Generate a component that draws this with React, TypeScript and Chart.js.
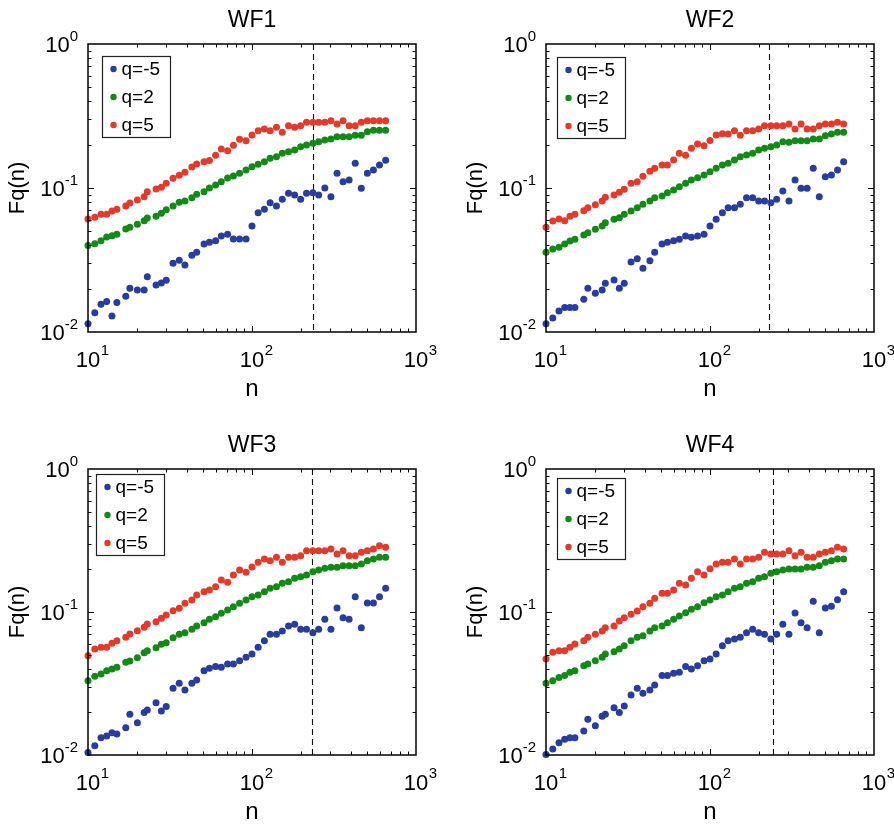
import React, { useEffect, useRef } from 'react';
import { Chart, registerables } from 'chart.js';

Chart.register(...registerables);

// ---------- data ----------
const nValues = [10, 11, 12, 13, 14, 15, 17, 18, 20, 22, 23, 26, 28, 30, 33, 36, 39, 43, 46, 51, 55, 60, 65, 71, 77, 84, 92, 100,
  109, 119, 129, 141, 153, 167, 182, 198, 215, 235, 255, 278, 303, 330, 359, 391, 426, 464, 505, 550, 599, 653];

const panelTitles = ['WF1', 'WF2', 'WF3', 'WF4'];
const seriesLabels = ['q=-5', 'q=2', 'q=5'];
const seriesColors = ['#2a3c9e', '#138a17', '#e33a2b'];
const cutoffN = [236, 230, 231, 241];

const xTickValues = [10, 100, 1000];
const xTickExps = ['1', '2', '3'];
const yTickValues = [0.01, 0.1, 1];
const yTickExps = ['-2', '-1', '0'];
const xAxisTitle = 'n';
const yAxisTitle = 'Fq(n)';

const wf1QMinus5 = [0.0114, 0.0136, 0.0156, 0.0163, 0.0129, 0.0160, 0.0177, 0.0201, 0.0196, 0.0196, 0.0242, 0.0212, 0.0219, 0.0229,
  0.0300, 0.0315, 0.0292, 0.0341, 0.0358, 0.0408, 0.0420, 0.0431, 0.0464, 0.0477, 0.0442, 0.0442, 0.0442, 0.0545,
  0.0674, 0.0711, 0.0790, 0.0750, 0.0835, 0.0919, 0.0894, 0.0835, 0.0919, 0.0928, 0.0894, 0.1000, 0.0870, 0.1265,
  0.1106, 0.1136, 0.1484, 0.0995, 0.1265, 0.1334, 0.1445, 0.1557];
const wf1Q2 = [0.0398, 0.0410, 0.0431, 0.0457, 0.0466, 0.0477, 0.0519, 0.0534, 0.0560, 0.0593, 0.0619, 0.0636, 0.0667, 0.0707,
  0.0750, 0.0796, 0.0812, 0.0856, 0.0904, 0.0943, 0.1000, 0.1049, 0.1106, 0.1174, 0.1212, 0.1265, 0.1334, 0.1406,
  0.1461, 0.1523, 0.1608, 0.1650, 0.1742, 0.1787, 0.1836, 0.1935, 0.1989, 0.2044, 0.2097, 0.2154, 0.2189, 0.2271,
  0.2271, 0.2271, 0.2323, 0.2323, 0.2460, 0.2516, 0.2516, 0.2516];
const wf1Q5 = [0.0609, 0.0626, 0.0657, 0.0657, 0.0692, 0.0711, 0.0750, 0.0787, 0.0825, 0.0870, 0.0943, 0.0984, 0.1011, 0.1078,
  0.1168, 0.1225, 0.1285, 0.1399, 0.1468, 0.1520, 0.1550, 0.1687, 0.1866, 0.1816, 0.1979, 0.2179, 0.2131, 0.2335,
  0.2500, 0.2569, 0.2500, 0.2639, 0.2436, 0.2708, 0.2639, 0.2708, 0.2859, 0.2859, 0.2859, 0.2859, 0.2934, 0.2783,
  0.2934, 0.2708, 0.2708, 0.2859, 0.2934, 0.2934, 0.2934, 0.2934];

const wf2QMinus5 = [0.0114, 0.0125, 0.0140, 0.0148, 0.0148, 0.0148, 0.0169, 0.0201, 0.0186, 0.0196, 0.0218, 0.0230, 0.0201, 0.0218,
  0.0306, 0.0323, 0.0277, 0.0313, 0.0358, 0.0408, 0.0420, 0.0431, 0.0440, 0.0464, 0.0455, 0.0464, 0.0477, 0.0545,
  0.0606, 0.0674, 0.0730, 0.0730, 0.0770, 0.0856, 0.0856, 0.0812, 0.0812, 0.0790, 0.0835, 0.0953, 0.0812, 0.1136,
  0.0995, 0.0995, 0.1370, 0.0870, 0.1198, 0.1231, 0.1334, 0.1523];
const wf2Q2 = [0.0358, 0.0377, 0.0388, 0.0408, 0.0429, 0.0440, 0.0472, 0.0489, 0.0517, 0.0545, 0.0574, 0.0606, 0.0622, 0.0657,
  0.0692, 0.0730, 0.0770, 0.0812, 0.0856, 0.0880, 0.0928, 0.0969, 0.1021, 0.1078, 0.1136, 0.1179, 0.1231, 0.1298,
  0.1370, 0.1445, 0.1484, 0.1565, 0.1650, 0.1696, 0.1742, 0.1836, 0.1886, 0.1935, 0.1989, 0.2097, 0.2077, 0.2131,
  0.2131, 0.2131, 0.2189, 0.2189, 0.2308, 0.2371, 0.2436, 0.2436];
const wf2Q5 = [0.0534, 0.0590, 0.0609, 0.0593, 0.0636, 0.0657, 0.0696, 0.0730, 0.0766, 0.0812, 0.0862, 0.0894, 0.0934, 0.0980,
  0.1078, 0.1106, 0.1206, 0.1306, 0.1370, 0.1445, 0.1445, 0.1565, 0.1742, 0.1687, 0.1886, 0.2020, 0.1966, 0.2140,
  0.2334, 0.2383, 0.2371, 0.2500, 0.2323, 0.2500, 0.2500, 0.2569, 0.2708, 0.2708, 0.2708, 0.2708, 0.2783, 0.2569,
  0.2783, 0.2569, 0.2569, 0.2708, 0.2783, 0.2783, 0.2859, 0.2783];

const wf3QMinus5 = [0.0104, 0.0116, 0.0132, 0.0136, 0.0143, 0.0140, 0.0155, 0.0193, 0.0168, 0.0198, 0.0206, 0.0232, 0.0203, 0.0218,
  0.0293, 0.0317, 0.0285, 0.0317, 0.0335, 0.0389, 0.0404, 0.0415, 0.0411, 0.0433, 0.0433, 0.0457, 0.0482, 0.0509,
  0.0566, 0.0630, 0.0698, 0.0698, 0.0737, 0.0798, 0.0820, 0.0757, 0.0757, 0.0717, 0.0757, 0.0889, 0.0757, 0.1067,
  0.0912, 0.0889, 0.1279, 0.0777, 0.1156, 0.1156, 0.1279, 0.1464];
const wf3Q2 = [0.0331, 0.0355, 0.0369, 0.0389, 0.0400, 0.0411, 0.0445, 0.0454, 0.0479, 0.0519, 0.0536, 0.0563, 0.0594, 0.0610,
  0.0661, 0.0698, 0.0717, 0.0757, 0.0798, 0.0842, 0.0889, 0.0927, 0.0979, 0.1033, 0.1089, 0.1150, 0.1213, 0.1279,
  0.1315, 0.1387, 0.1464, 0.1503, 0.1587, 0.1628, 0.1720, 0.1765, 0.1815, 0.1913, 0.1966, 0.2020, 0.2054, 0.2054,
  0.2108, 0.2108, 0.2108, 0.2166, 0.2285, 0.2348, 0.2413, 0.2413];
const wf3Q5 = [0.0495, 0.0551, 0.0566, 0.0566, 0.0604, 0.0630, 0.0665, 0.0702, 0.0740, 0.0782, 0.0824, 0.0855, 0.0904, 0.0953,
  0.1021, 0.1061, 0.1150, 0.1213, 0.1315, 0.1387, 0.1425, 0.1503, 0.1674, 0.1613, 0.1815, 0.1966, 0.1895, 0.2064,
  0.2227, 0.2348, 0.2285, 0.2413, 0.2227, 0.2413, 0.2413, 0.2476, 0.2683, 0.2683, 0.2683, 0.2683, 0.2758, 0.2544,
  0.2683, 0.2476, 0.2476, 0.2615, 0.2683, 0.2758, 0.2908, 0.2834];

const wf4QMinus5 = [0.0101, 0.0110, 0.0122, 0.0129, 0.0132, 0.0132, 0.0147, 0.0178, 0.0160, 0.0187, 0.0193, 0.0214, 0.0198, 0.0220,
  0.0263, 0.0293, 0.0270, 0.0285, 0.0309, 0.0359, 0.0359, 0.0373, 0.0379, 0.0415, 0.0400, 0.0421, 0.0457, 0.0469,
  0.0509, 0.0581, 0.0630, 0.0648, 0.0665, 0.0717, 0.0757, 0.0717, 0.0698, 0.0648, 0.0698, 0.0820, 0.0698, 0.0984,
  0.0842, 0.0777, 0.1188, 0.0717, 0.1067, 0.1096, 0.1219, 0.1387];
const wf4Q2 = [0.0317, 0.0331, 0.0349, 0.0359, 0.0379, 0.0389, 0.0421, 0.0433, 0.0457, 0.0482, 0.0509, 0.0528, 0.0551, 0.0581,
  0.0630, 0.0665, 0.0683, 0.0737, 0.0777, 0.0798, 0.0842, 0.0889, 0.0938, 0.0989, 0.1044, 0.1089, 0.1161, 0.1213,
  0.1279, 0.1315, 0.1387, 0.1464, 0.1503, 0.1587, 0.1628, 0.1720, 0.1765, 0.1865, 0.1913, 0.1966, 0.1998, 0.1998,
  0.1998, 0.2054, 0.2054, 0.2108, 0.2227, 0.2285, 0.2348, 0.2348];
const wf4Q5 = [0.0469, 0.0523, 0.0536, 0.0536, 0.0566, 0.0597, 0.0630, 0.0665, 0.0698, 0.0737, 0.0777, 0.0798, 0.0865, 0.0912,
  0.0964, 0.1016, 0.1089, 0.1150, 0.1247, 0.1351, 0.1351, 0.1425, 0.1587, 0.1545, 0.1720, 0.1913, 0.1815, 0.2009,
  0.2166, 0.2227, 0.2227, 0.2348, 0.2166, 0.2348, 0.2348, 0.2413, 0.2615, 0.2544, 0.2544, 0.2544, 0.2683, 0.2476,
  0.2615, 0.2413, 0.2413, 0.2544, 0.2615, 0.2683, 0.2834, 0.2758];

const panelSeries = [
  [wf1QMinus5, wf1Q2, wf1Q5],
  [wf2QMinus5, wf2Q2, wf2Q5],
  [wf3QMinus5, wf3Q2, wf3Q5],
  [wf4QMinus5, wf4Q2, wf4Q5],
];

// ---------- layout (positions / styles only) ----------
const FIG_W = 894;
const FIG_H = 826;
const CELL_W = 447;
const CELL_H = 413;
const FONT = '"Liberation Sans", Arial, Helvetica, sans-serif';

const panelLayouts = [
  { left: 0, top: 0, pad: { left: 88, top: 44, right: 31, bottom: 81 }, legend: { dx: 14, dy: 12 } },
  { left: 447, top: 0, pad: { left: 99, top: 44, right: 20, bottom: 81 }, legend: { dx: 11, dy: 13 } },
  { left: 0, top: 413, pad: { left: 88, top: 56, right: 31, bottom: 71 }, legend: { dx: 8, dy: 5 } },
  { left: 447, top: 413, pad: { left: 99, top: 56, right: 20, bottom: 71 }, legend: { dx: 11, dy: 9 } },
];

const POINT_R = 3.5;

function makeDecor(idx: number) {
  const lay = panelLayouts[idx];
  return {
    id: 'wfDecor' + idx,
    beforeDatasetsDraw(chart: any) {
      const { ctx, chartArea: a, scales } = chart;
      const x = Math.round(scales.x.getPixelForValue(cutoffN[idx])) + 0.5;
      ctx.save();
      ctx.strokeStyle = '#111';
      ctx.lineWidth = 1.1;
      ctx.setLineDash([6, 4]);
      ctx.beginPath();
      ctx.moveTo(x, a.top);
      ctx.lineTo(x, a.bottom);
      ctx.stroke();
      ctx.restore();
    },
    afterDatasetsDraw(chart: any) {
      const { ctx, chartArea: a, scales } = chart;
      const xs = scales.x;
      const ys = scales.y;
      ctx.save();
      ctx.setLineDash([]);
      ctx.strokeStyle = '#000';
      ctx.fillStyle = '#000';

      // ticks (inward, all four sides)
      ctx.lineWidth = 1;
      ctx.beginPath();
      for (let d = 0; d < xTickValues.length - 1; d++) {
        for (let m = 1; m <= 9; m++) {
          const v = xTickValues[d] * m;
          if (d === 0 && m === 1) continue;
          const px = Math.round(xs.getPixelForValue(v)) + 0.5;
          const len = m === 1 ? 6 : 3.5;
          ctx.moveTo(px, a.bottom); ctx.lineTo(px, a.bottom - len);
          ctx.moveTo(px, a.top); ctx.lineTo(px, a.top + len);
        }
      }
      for (let d = 0; d < yTickValues.length - 1; d++) {
        for (let m = 1; m <= 9; m++) {
          const v = yTickValues[d] * m;
          if (d === 0 && m === 1) continue;
          const py = Math.round(ys.getPixelForValue(v)) + 0.5;
          const len = m === 1 ? 6 : 3.5;
          ctx.moveTo(a.left, py); ctx.lineTo(a.left + len, py);
          ctx.moveTo(a.right, py); ctx.lineTo(a.right - len, py);
        }
      }
      ctx.stroke();

      // box
      ctx.lineWidth = 1.5;
      ctx.strokeRect(a.left, a.top, a.right - a.left, a.bottom - a.top);

      // x tick labels
      const mainFont = `22px ${FONT}`;
      const expFont = `15px ${FONT}`;
      ctx.textBaseline = 'alphabetic';
      xTickValues.forEach((v, i) => {
        const px = xs.getPixelForValue(v);
        ctx.font = mainFont;
        const w10 = ctx.measureText('10').width;
        ctx.textAlign = 'left';
        ctx.fillText('10', px - w10 / 2, a.bottom + 35);
        ctx.font = expFont;
        ctx.fillText(xTickExps[i], px + w10 / 2 + 0.5, a.bottom + 23);
      });

      // y tick labels
      yTickValues.forEach((v, i) => {
        const py = ys.getPixelForValue(v);
        ctx.font = expFont;
        const we = ctx.measureText(yTickExps[i]).width;
        ctx.font = mainFont;
        const w10 = ctx.measureText('10').width;
        const right = a.left - 10;
        ctx.textAlign = 'left';
        ctx.fillText('10', right - we - w10, py + 8);
        ctx.font = expFont;
        ctx.fillText(yTickExps[i], right - we, py - 3);
      });

      // title
      const cx = (a.left + a.right) / 2;
      const cy = (a.top + a.bottom) / 2;
      ctx.font = `23px ${FONT}`;
      ctx.textAlign = 'center';
      ctx.fillText(panelTitles[idx], cx, a.top - 17);

      // axis titles
      ctx.font = `24px ${FONT}`;
      ctx.fillText(xAxisTitle, cx, a.bottom + 64);
      ctx.save();
      ctx.translate(a.left - 64, cy);
      ctx.rotate(-Math.PI / 2);
      ctx.font = `22px ${FONT}`;
      ctx.textAlign = 'center';
      ctx.fillText(yAxisTitle, 0, 0);
      ctx.restore();

      // legend
      const bx = a.left + lay.legend.dx + 0.5;
      const by = a.top + lay.legend.dy + 0.5;
      const bw = 68;
      const bh = 81;
      ctx.fillStyle = '#fff';
      ctx.fillRect(bx, by, bw, bh);
      ctx.strokeStyle = '#222';
      ctx.lineWidth = 1.2;
      ctx.strokeRect(bx, by, bw, bh);
      ctx.font = `19px ${FONT}`;
      ctx.textAlign = 'left';
      ctx.textBaseline = 'middle';
      chart.data.datasets.forEach((ds: any, i: number) => {
        const ry = by + 12.5 + i * 28;
        ctx.fillStyle = ds.backgroundColor;
        ctx.beginPath();
        ctx.arc(bx + 11, ry, 3.2, 0, Math.PI * 2);
        ctx.fill();
        ctx.fillStyle = '#000';
        ctx.fillText(ds.label, bx + 19, ry + 1);
      });
      ctx.restore();
    },
  };
}

function Panel({ idx }: { idx: number }) {
  const ref = useRef<HTMLCanvasElement | null>(null);
  useEffect(() => {
    if (!ref.current) return;
    const lay = panelLayouts[idx];
    const datasets = panelSeries[idx].map((vals, s) => ({
      label: seriesLabels[s],
      data: nValues.map((n, k) => ({ x: n, y: vals[k] })),
      backgroundColor: seriesColors[s],
      borderColor: seriesColors[s],
      borderWidth: 0,
      pointRadius: POINT_R,
      pointHoverRadius: POINT_R,
      clip: false as any,
    }));
    const chart = new Chart(ref.current, {
      type: 'scatter',
      data: { datasets },
      options: {
        responsive: false,
        maintainAspectRatio: false,
        animation: false,
        events: [],
        layout: { padding: lay.pad },
        scales: {
          x: { type: 'logarithmic', min: 10, max: 1000, display: false },
          y: { type: 'logarithmic', min: 0.01, max: 1, display: false },
        },
        plugins: {
          legend: { display: false },
          tooltip: { enabled: false },
          title: { display: false },
        },
      },
      plugins: [makeDecor(idx)],
    } as any);
    return () => chart.destroy();
  }, [idx]);
  const lay = panelLayouts[idx];
  return (
    <canvas
      ref={ref}
      width={CELL_W}
      height={CELL_H}
      style={{ position: 'absolute', left: lay.left, top: lay.top, width: CELL_W, height: CELL_H }}
    />
  );
}

export default function App() {
  return (
    <div style={{ position: 'absolute', left: 0, top: 0, width: FIG_W, height: FIG_H, background: '#fff', overflow: 'hidden' }}>
      {panelTitles.map((_, i) => (
        <Panel key={i} idx={i} />
      ))}
    </div>
  );
}
